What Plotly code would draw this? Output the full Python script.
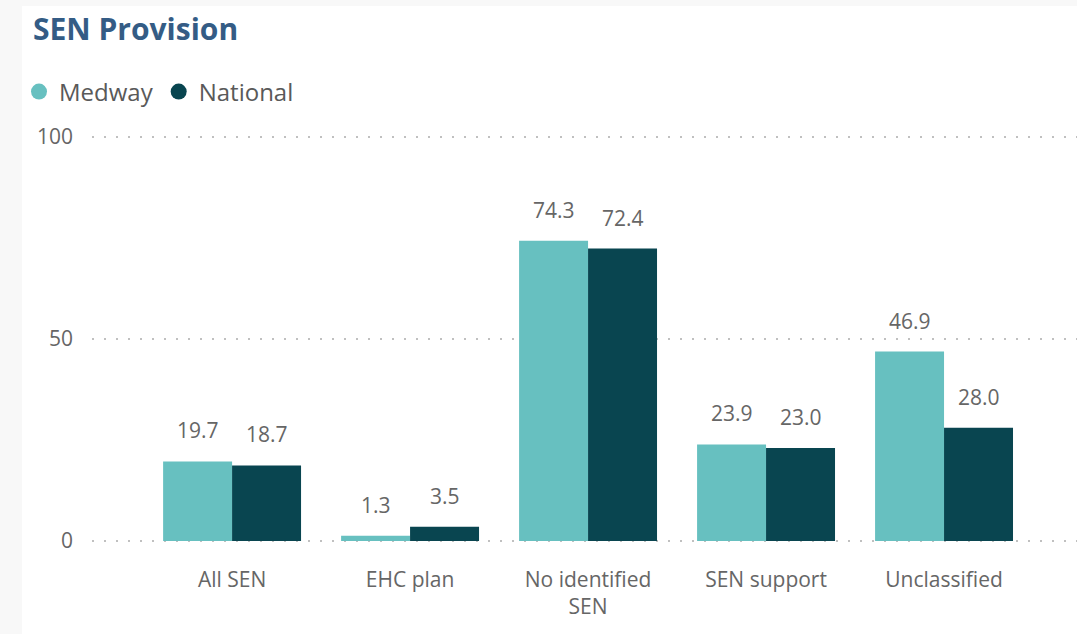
import plotly.graph_objects as go

categories = ["All SEN", "EHC plan", "No identified<br>SEN", "SEN support", "Unclassified"]
medway = [19.7, 1.3, 74.3, 23.9, 46.9]
national = [18.7, 3.5, 72.4, 23.0, 28.0]
series_names = ["Medway", "National"]
colors = ["#67C0C0", "#094550"]
y_ticks = [0, 50, 100]

W, H = 1077, 634
ML, MR, MT, MB = 92, 0, 135, 91
FONT = "Segoe UI, Open Sans, sans-serif"
GRAY = "#666666"

fig = go.Figure()
for name, vals, col in zip(series_names, [medway, national], colors):
    fig.add_trace(go.Bar(x=categories, y=vals, name=name, marker_color=col,
                         marker_line_width=0, showlegend=False, hoverinfo="skip"))
    fig.add_trace(go.Scatter(x=[None], y=[None], mode="markers", name=name,
                             marker=dict(symbol="circle", size=20, color=col)))

# data labels
for vals, shift in [(medway, -34.5), (national, 34.5)]:
    for c, v in zip(categories, vals):
        fig.add_annotation(x=c, y=v, text=f"{v:.1f}", showarrow=False,
                           xanchor="center", yanchor="bottom", xshift=shift, yshift=15,
                           font=dict(family=FONT, size=21, color=GRAY))

pw = W - ML - MR
ph = H - MT - MB
# page background strips
fig.add_shape(type="rect", xref="paper", yref="paper",
              x0=-ML / pw, x1=(22 - ML) / pw, y0=-MB / ph, y1=1 + MT / ph,
              fillcolor="#F8F8F8", line_width=0, layer="below")
fig.add_shape(type="rect", xref="paper", yref="paper",
              x0=-ML / pw, x1=1, y0=1 + (MT - 6) / ph, y1=1 + MT / ph,
              fillcolor="#F8F8F8", line_width=0, layer="below")

fig.update_layout(
    width=W, height=H,
    margin=dict(l=ML, r=MR, t=MT, b=MB),
    paper_bgcolor="white", plot_bgcolor="white",
    barmode="group", bargap=0.225, bargroupgap=0,
    title=dict(text="<b>SEN Provision</b>", x=33 / W, xanchor="left",
               y=1 - 29 / H, yanchor="middle", yref="container",
               font=dict(family=FONT, size=30, color="#345C85")),
    legend=dict(orientation="h", x=(19 - ML) / pw, xanchor="left",
                y=1 + (MT - 92) / ph, yanchor="middle", bgcolor="rgba(0,0,0,0)",
                font=dict(family=FONT, size=24, color="#595959"),
                itemsizing="trace", traceorder="normal", itemwidth=30),
    font=dict(family=FONT),
    xaxis=dict(range=[-0.787, 4.747], showgrid=False, showline=False, zeroline=False,
               tickfont=dict(family=FONT, size=21, color=GRAY), ticks="",
               ticklabelstandoff=22),
    yaxis=dict(range=[-0.5, 100.5], tickvals=y_ticks, showline=False, zeroline=False,
               showgrid=True, gridcolor="#C0C0C0", gridwidth=1.5, griddash="1.5px,10.5px",
               tickfont=dict(family=FONT, size=21, color=GRAY), ticks="",
               ticklabelstandoff=18),
)
fig.write_html("out.html", config={"displayModeBar": False},
               post_script="document.body.style.margin='0';")
